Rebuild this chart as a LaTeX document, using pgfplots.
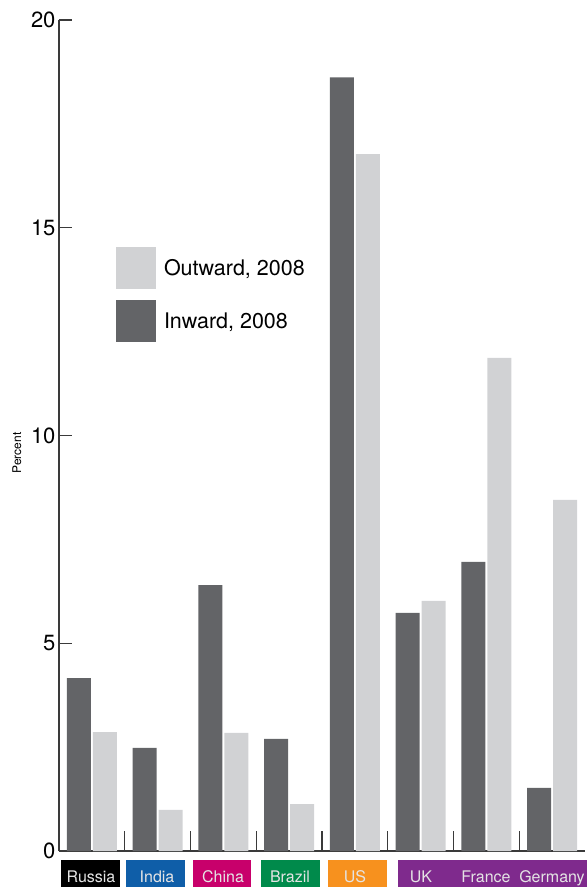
\documentclass[border=0pt]{standalone}
\usepackage{fontspec}
\setmainfont{TeX Gyre Heros}
\usepackage{pgfplots}
\pgfplotsset{compat=1.18}
\definecolor{darkbar}{HTML}{636467}
\definecolor{lightbar}{HTML}{D1D2D4}
\definecolor{axiscol}{HTML}{3A3A3A}
\definecolor{cRussia}{HTML}{000000}
\definecolor{cIndia}{HTML}{0F5EA8}
\definecolor{cChina}{HTML}{C8006B}
\definecolor{cBrazil}{HTML}{008A4B}
\definecolor{cUS}{HTML}{F7911E}
\definecolor{cEU}{HTML}{7F2A8D}
\definecolor{labtxt}{HTML}{E4E4E4}
\begin{document}
\begin{tikzpicture}
\useasboundingbox (-59pt,-36pt) rectangle (528pt,851pt);
\begin{axis}[
  at={(0pt,0pt)}, anchor=south west,
  scale only axis, width=526pt, height=831pt,
  xmin=-0.5, xmax=7.5, ymin=0, ymax=20,
  axis x line*=bottom, axis y line*=left,
  axis line style={-, draw=axiscol, line width=1.2pt},
  ytick={0,5,10,15,20}, xtick=\empty,
  tick align=inside, major tick length=13pt,
  tick style={draw=axiscol, line width=1.2pt},
  yticklabel style={font=\fontsize{22}{26}\selectfont, text=black},
  /pgf/number format/assume math mode=true,
  ylabel={Percent},
  every axis y label/.style={at={(axis description cs:-0.08,0.479)}, rotate=90, anchor=center, font=\fontsize{12}{14}\selectfont},
  ybar, bar width=24pt,
  legend reversed,
  legend style={at={(axis description cs:0.1084,0.7268)}, anchor=north west,
    draw=none, fill=none, inner sep=0pt, outer sep=0pt,
    font=\fontsize{21.5}{25}\selectfont, row sep=11pt,
    cells={anchor=west},
    /tikz/every odd column/.append style={column sep=6pt}},
]
\addplot[fill=darkbar, draw=none, bar shift=-13pt,
  legend image code/.code={\fill[darkbar] (0pt,-21pt) rectangle (40pt,21pt);}]
  coordinates {(0,4.16) (1,2.48) (2,6.40) (3,2.70) (4,18.62) (5,5.73) (6,6.96) (7,1.52)};
\addlegendentry{Inward, 2008}
\addplot[fill=lightbar, draw=none, bar shift=13pt,
  legend image code/.code={\fill[lightbar] (0pt,-21pt) rectangle (40pt,21pt);}]
  coordinates {(0,2.86) (1,0.99) (2,2.84) (3,1.13) (4,16.77) (5,6.02) (6,11.87) (7,8.45)};
\addlegendentry{Outward, 2008}
\pgfplotsinvokeforeach{0.5,1.5,2.5,3.5,4.5,5.5,6.5}{
  \draw[axiscol, line width=1.2pt] (axis cs:#1,0) -- ++(0pt,20pt);
}
\end{axis}
\fill[cRussia] (2pt,-9pt) rectangle (61pt,-36pt);
\fill[cIndia] (67pt,-9pt) rectangle (126pt,-36pt);
\fill[cChina] (134pt,-9pt) rectangle (192pt,-36pt);
\fill[cBrazil] (202pt,-9pt) rectangle (261pt,-36pt);
\fill[cUS] (269pt,-9pt) rectangle (328pt,-36pt);
\fill[cEU] (339pt,-9pt) rectangle (528pt,-36pt);
\begin{scope}[every node/.style={anchor=base, text=labtxt, font=\fontsize{16}{19}\selectfont, inner sep=0pt}]
\node at (32pt,-31pt) {Russia};
\node at (98pt,-31pt) {India};
\node at (164pt,-31pt) {China};
\node at (231pt,-31pt) {Brazil};
\node at (296pt,-31pt) {US};
\node at (362pt,-31pt) {UK};
\node at (427pt,-31pt) {France};
\node at (493pt,-31pt) {Germany};
\end{scope}
\end{tikzpicture}
\end{document}
